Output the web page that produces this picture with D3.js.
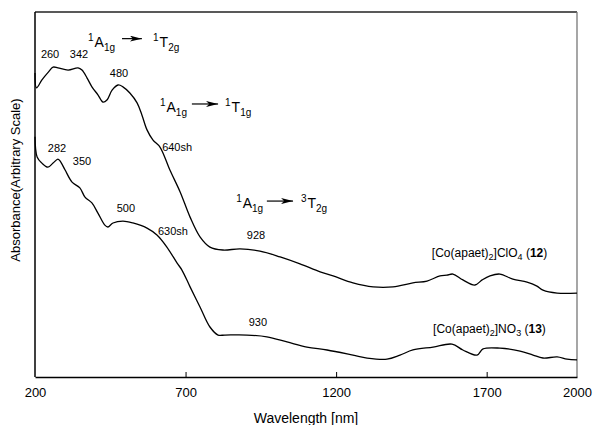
<!DOCTYPE html>
<html><head><meta charset="utf-8">
<script src="https://cdn.jsdelivr.net/npm/d3@7"></script>
<style>body{margin:0;background:#fff}svg{display:block;font-family:"Liberation Sans",Arial,Helvetica,sans-serif}</style>
</head><body><svg id="c" width="593" height="425"></svg>
<script>
// Data (wavelength nm, absorbance arbitrary units)
const xTicks = [200, 700, 1200, 1700, 2000];
const wl12 = [200,205,223,245,260,276,310,343,356,373,389,409,426,439,456,476,492,515,539,555,572,592,615,648,682,715,748,781,824,881,947,1014,1080,1147,1190,1256,1323,1389,1455,1502,1545,1568,1588,1621,1661,1685,1711,1744,1787,1834,1867,1887,1934,2000];
const abs12 = [83.3,79.2,81.4,83.6,84.9,84.7,84.1,84.7,84.1,81.9,79.5,77.3,75.3,75.9,78.6,80.0,79.5,77.8,75.1,71.8,67.7,64.9,63.0,56.7,50.7,43.8,38.4,35.6,34.8,35.1,34.5,32.9,31.0,28.8,27.7,25.8,24.7,24.7,25.8,26.3,27.7,27.9,28.2,26.6,25.2,26.6,27.7,28.2,26.8,26.0,24.9,23.8,23.0,23.0];
const wl13 = [200,207,223,243,260,276,283,300,323,349,366,389,409,432,442,459,492,525,572,605,638,672,688,715,748,781,808,831,904,970,1037,1103,1170,1256,1303,1369,1412,1455,1522,1585,1621,1668,1688,1744,1811,1854,1887,1934,1967,2000];
const abs13 = [65.8,60.3,58.6,57.5,58.6,59.7,59.2,56.7,53.4,51.8,49.3,47.7,44.9,41.6,41.1,42.2,42.7,42.2,40.8,38.9,35.6,31.2,29.3,24.7,19.2,13.7,11.5,11.5,11.5,11.0,9.6,8.2,7.4,6.0,5.2,4.9,6.0,7.4,8.2,9.0,7.4,6.0,7.7,7.9,7.1,6.0,5.2,5.5,4.9,4.7];
// peak annotations: [text, wavelength, absorbance]
const peakText = ["260","342","480","640sh","928","282","350","500","630sh","930"];
const peakWl   = [250,346,479,672,934,273,356,502,658,940];
const peakAbs  = [88.5,88.5,83.3,63.0,38.9,62.7,59.2,46.3,40.0,15.1];
// transitions
const trFrom = [["1","A","1g"],["1","A","1g"],["1","A","1g"]];
const trTo   = [["1","T","2g"],["1","T","1g"],["3","T","2g"]];
const trWl   = [376,615,868];
const trArrowWl = [[489,555],[721,808],[970,1057]];
const trToWl = [592,831,1083];
const trAbs  = [90.4,72.6,46.3];
const trArrowAbs = [92.7,74.8,48.2];
// legends
const legMain = [["NO3","13"],["ClO4","12"]];
const legWl = [1522,1518];
const legAbs = [12.1,32.9];

const svg = d3.select("#c");
const L=35,R=577,T=12,B=377;
const x = d3.scaleLinear().domain([200,2000]).range([L,R]);
const y = d3.scaleLinear().domain([0,100]).range([B,T]);

// frame
svg.append("line").attr("x1",L).attr("x2",R).attr("y1",T).attr("y2",T).attr("stroke","#222").attr("stroke-width",1.3);
svg.append("line").attr("x1",R).attr("x2",R).attr("y1",T).attr("y2",B).attr("stroke","#777").attr("stroke-width",1.3);
svg.append("line").attr("x1",L).attr("x2",L).attr("y1",T).attr("y2",B).attr("stroke","#000").attr("stroke-width",1.5);

const xa = svg.append("g").attr("transform",`translate(0,${B})`)
  .call(d3.axisBottom(x).tickValues(xTicks).tickSizeInner(-5).tickSizeOuter(0).tickPadding(11).tickFormat(d3.format("d")));
xa.select(".domain").attr("stroke","#000").attr("stroke-width",1.5);
xa.selectAll(".tick line").attr("stroke","#000").attr("stroke-width",1)
  .filter(d=>d===200||d===2000).remove();
xa.selectAll("text").attr("font-size",13).attr("font-family","Liberation Sans, Arial, sans-serif").attr("fill","#000");

svg.append("text").attr("x",(L+R)/2).attr("y",423).attr("text-anchor","middle").attr("font-size",14).text("Wavelength [nm]");
svg.append("text").attr("transform","translate(20,180) rotate(-90)").attr("text-anchor","middle").attr("font-size",13).text("Absorbance(Arbitrary Scale)");

const line = d3.line().x(d=>x(d[0])).y(d=>y(d[1])).curve(d3.curveCatmullRom.alpha(0.5));
[[wl12,abs12],[wl13,abs13]].forEach(([w,a])=>{
  svg.append("path").datum(w.map((v,i)=>[v,a[i]])).attr("d",line)
    .attr("fill","none").attr("stroke","#000").attr("stroke-width",1.3).attr("stroke-linejoin","round");
});

peakText.forEach((t,i)=>{
  svg.append("text").attr("x",x(peakWl[i])).attr("y",y(peakAbs[i])).attr("dy","0.35em")
    .attr("text-anchor","middle").attr("font-size",11).text(t);
});

function term(g, parts, xp, yp){
  const t = g.append("text").attr("x",xp).attr("y",yp).attr("font-size",14);
  t.append("tspan").attr("font-size",10).attr("dy",-6).text(parts[0]);
  t.append("tspan").attr("dy",6).attr("dx",1).text(parts[1]);
  t.append("tspan").attr("font-size",10).attr("dy",4).text(parts[2]);
}
svg.append("defs").append("marker").attr("id","ah").attr("viewBox","0 0 12 6").attr("refX",12).attr("refY",3)
  .attr("markerWidth",12).attr("markerHeight",6).attr("markerUnits","userSpaceOnUse").attr("orient","auto")
  .append("path").attr("d","M0,0 L12,3 L0,6 L3,3 Z").attr("fill","#000");
trFrom.forEach((f,i)=>{
  term(svg, f, x(trWl[i]), y(trAbs[i]));
  svg.append("line").attr("x1",x(trArrowWl[i][0])).attr("x2",x(trArrowWl[i][1]))
    .attr("y1",y(trArrowAbs[i])).attr("y2",y(trArrowAbs[i])).attr("stroke","#000").attr("stroke-width",1.2).attr("marker-end","url(#ah)");
  term(svg, trTo[i], x(trToWl[i]), y(trAbs[i]));
});

legMain.forEach((m,i)=>{
  const t = svg.append("text").attr("x",x(legWl[i])).attr("y",y(legAbs[i])).attr("font-size",12);
  t.append("tspan").text("[Co(apaet)");
  t.append("tspan").attr("font-size",9).attr("dy",3).text("2");
  t.append("tspan").attr("dy",-3).text("]"+m[0].slice(0,-1));
  t.append("tspan").attr("font-size",9).attr("dy",3).text(m[0].slice(-1));
  t.append("tspan").attr("dy",-3).text(" (");
  t.append("tspan").attr("font-weight","bold").text(m[1]);
  t.append("tspan").text(")");
});
</script></body></html>
